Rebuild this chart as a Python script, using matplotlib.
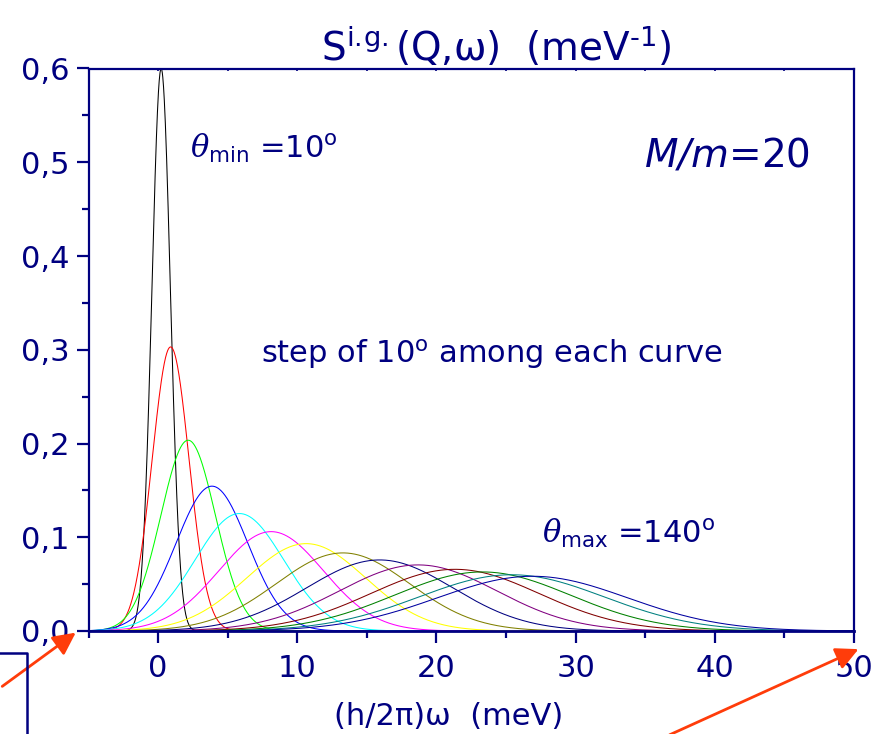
import numpy as np
import matplotlib.pyplot as plt
from matplotlib.patches import FancyArrowPatch
from matplotlib.lines import Line2D
from matplotlib.ticker import MultipleLocator, FuncFormatter

plt.rcParams['font.family'] = ['DejaVu Sans']
plt.rcParams['mathtext.fontset'] = 'custom'
plt.rcParams['mathtext.rm'] = 'DejaVu Sans'
plt.rcParams['mathtext.it'] = 'DejaVu Serif:italic'
plt.rcParams['mathtext.sf'] = 'DejaVu Sans:italic'

# scattering angle of each curve (deg), read-off peak centre (meV), peak height, gaussian width
angles = [10, 20, 30, 40, 50, 60, 70, 80, 90, 100, 110, 120, 130, 140]
centres = [0.22, 0.90, 2.16, 3.87, 5.84, 8.12, 10.64, 13.28, 15.92, 18.68, 21.33, 23.3, 25.4, 26.9]
heights = [0.600, 0.303, 0.2035, 0.1545, 0.1253, 0.106, 0.0932, 0.0833, 0.0758, 0.0705, 0.0658, 0.0630, 0.0600, 0.0584]
widths = [0.665, 1.32, 1.96, 2.58, 3.18, 3.76, 4.28, 4.79, 5.26, 5.66, 6.06, 6.33, 6.65, 6.83]
colors = ['#000000', '#ff0000', '#00ff00', '#0000ff', '#00ffff', '#ff00ff', '#ffff00',
          '#808000', '#000080', '#800080', '#800000', '#008000', '#008080', '#0000a0']

navy = '#000080'
W, H = 876, 734

fig = plt.figure(figsize=(W / 100, H / 100), dpi=100)
ax = fig.add_axes([88.5 / W, (H - 631) / H, (854 - 88.5) / W, (631 - 68.5) / H])

x = np.linspace(-5, 50, 3000)
for c, h, s, col in zip(centres, heights, widths, colors):
    ax.plot(x, h * np.exp(-0.5 * ((x - c) / s) ** 2), color=col, lw=0.75)

ax.set_xlim(-5, 50)
ax.set_ylim(0, 0.6)
ax.xaxis.set_major_locator(MultipleLocator(10))
ax.xaxis.set_minor_locator(MultipleLocator(5))
ax.yaxis.set_major_locator(MultipleLocator(0.1))
ax.yaxis.set_minor_locator(MultipleLocator(0.05))
ax.yaxis.set_major_formatter(FuncFormatter(lambda v, p: f'{v:.1f}'.replace('.', ',')))

for sp in ax.spines.values():
    sp.set_color(navy)
    sp.set_linewidth(1.6)
ax.spines['bottom'].set_linewidth(2.0)
ax.tick_params(which='major', direction='out', length=8.5, width=1.6, color=navy,
               labelcolor=navy, labelsize=22, pad=5)
ax.tick_params(axis='x', which='major', pad=8)
ax.tick_params(which='minor', direction='out', length=5, width=1.6, color=navy)

top = ax.secondary_xaxis('top')
top.set_xticks(np.arange(0, 51, 5))
top.tick_params(direction='in', length=2.5, width=1.2, color=navy, labeltop=False)
top.spines['top'].set_visible(False)

ax.set_title(r'S$^{\rm i.\!g.}$(Q,ω)  (meV$^{\rm ‐1}$)', color=navy, fontsize=28, pad=3,
             x=0.533)
ax.set_xlabel('(h/2π)ω  (meV)', color=navy, fontsize=22)
ax.xaxis.set_label_coords(0.47, -0.152)
ax.xaxis.label.set_va('center')

ax.text(2.3, 0.5045, r'$\theta_{\rm min}$ =10$^{\rm o}$', color=navy, fontsize=22)
ax.text(27.6, 0.094, r'$\theta_{\rm max}$ =140$^{\rm o}$', color=navy, fontsize=22)
ax.text(24.0, 0.286, r'step of 10$^{\rm o}$ among each curve', color=navy, fontsize=22,
        ha='center')
ax.text(46.8, 0.495, r'$\mathsf{M/m}$=20', color=navy, fontsize=28, ha='right')

# red slide arrows and box fragment outside the plot
arrow_col = '#ff3c0a'
fig.add_artist(FancyArrowPatch((0, 46), (78, 103), transform=None, arrowstyle='-|>',
                               mutation_scale=34, color=arrow_col, lw=2))
fig.add_artist(FancyArrowPatch((667, -2), (861, 86), transform=None, arrowstyle='-|>',
                               mutation_scale=34, color=arrow_col, lw=2))
fig.add_artist(Line2D([0, 27 / W, 27 / W], [81 / H, 81 / H, 0], transform=fig.transFigure,
                      color=navy, lw=1.8))

fig.savefig('out.png', dpi=100)
